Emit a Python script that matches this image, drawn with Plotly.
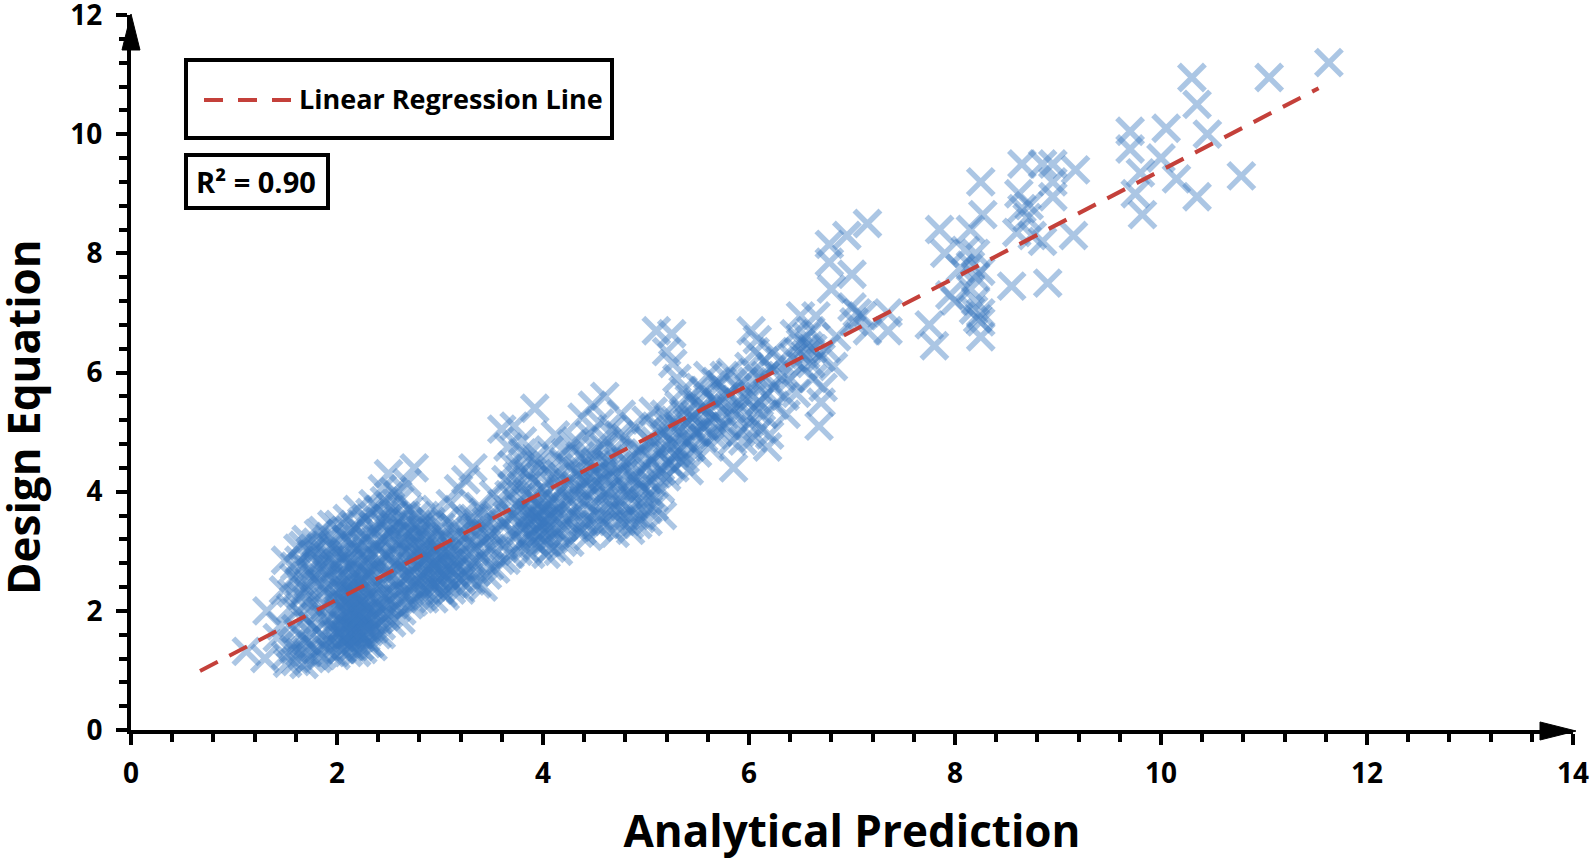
import plotly.graph_objects as go

x_ticks = [0, 2, 4, 6, 8, 10, 12, 14]
y_ticks = [0, 2, 4, 6, 8, 10, 12]
fit_x = [0.67, 11.53]
fit_y = [0.99, 10.77]

points_low = [
(1.12,1.32),(1.3,1.2),(1.32,2.0),(1.42,1.55),(1.45,1.75),(1.48,2.35),(1.5,1.25),(1.5,2.85),(1.52,1.12),(1.55,1.45),
(1.55,2.05),(1.58,2.55),(1.6,1.15),(1.6,1.7),(1.62,3.05),(1.64,1.3),(1.65,2.25),(1.66,2.75),(1.68,1.1),(1.68,1.9),
(1.7,1.5),(1.7,3.2),(1.72,2.45),(1.74,1.2),(1.75,2.95),(1.76,1.75),(1.78,2.15),(1.8,1.35),(1.8,2.65),(1.82,3.3),
(1.84,2.0),(1.85,1.6),(1.86,2.85),(1.88,2.35),(1.88,1.4),(1.9,3.1),(1.9,1.85),(1.92,2.55),(1.94,1.3),(1.95,3.45),
(1.95,2.2),(1.96,1.65),(1.98,2.75),(2.0,1.45),(2.0,2.0),(2.0,3.0),(2.02,2.4),(2.03,1.8),(2.04,3.3),(2.05,1.35),
(2.05,2.6),(2.06,2.15),(2.08,1.55),(2.08,2.9),(2.1,1.95),(2.1,3.55),(2.1,2.35),(2.12,1.7),(2.12,1.4),(2.13,2.75),
(2.14,3.15),(2.15,2.05),(2.15,2.5),(2.16,1.85),(2.18,1.5),(2.18,2.25),(2.18,3.4),(2.2,1.65),(2.2,2.9),(2.2,3.7),
(2.22,2.0),(2.22,1.4),(2.23,2.45),(2.24,1.8),(2.25,3.1),(2.25,2.65),(2.26,2.15),(2.28,1.55),(2.28,3.55),(2.3,2.3),
(2.3,1.9),(2.3,2.85),(2.32,1.45),(2.33,3.3),(2.34,2.55),(2.35,2.05),(2.35,3.8),(2.36,1.7),(2.38,2.75),(2.4,2.2),
(2.4,3.05),(2.4,1.85),(2.42,3.5),(2.43,1.6),(2.44,4.05),(2.45,2.45),(2.46,2.95),(2.48,2.1),(2.5,3.3),(2.5,1.95),
(2.5,2.65),(2.5,4.3),(2.52,3.75),(2.54,2.3),(2.55,4.0),(2.56,2.85),(2.58,2.05),(2.6,3.15),(2.6,2.5),(2.6,3.55),
(2.62,1.85),(2.63,2.75),(2.65,2.25),(2.65,3.0),(2.66,3.35),(2.68,4.15),(2.7,2.6),(2.7,2.1),(2.7,3.7),(2.72,2.9),
(2.73,3.15),(2.75,2.4),(2.75,4.4),(2.76,2.75),(2.78,3.45),(2.8,2.2),(2.8,3.0),(2.8,2.55),(2.82,3.25),(2.84,2.85),
(2.85,3.6),(2.86,2.35),(2.88,2.65),(2.9,3.1),(2.9,2.45),(2.9,2.9),(2.92,3.4),(2.94,2.2),(2.95,2.75),(2.96,3.7),
(2.98,2.55),(3.0,3.0),(3.0,2.35),(3.0,3.25),(3.02,2.8),(3.04,2.6),(3.05,3.5),(3.05,2.25),(3.08,2.95),(3.1,2.7),
(3.1,3.15),(3.1,3.8),(3.12,2.45),(3.14,3.4),(3.15,2.85),(3.18,2.55),(3.18,4.05),(3.2,3.1),(3.2,2.35),(3.22,3.6),
(3.25,2.75),(3.25,4.2),(3.28,2.95),(3.3,2.5),(3.3,3.35),(3.32,4.4),(3.35,3.05),(3.35,2.65),(3.38,3.75),(3.4,2.9),
(3.4,3.2),(3.42,2.4),(3.45,3.5),(3.48,2.75),(3.5,3.05),(3.52,3.95),(3.55,3.3),(3.58,2.85),
]

points_dense = [
(1.56,2.3),(1.58,1.35),(1.62,2.0),(1.63,2.85),(1.66,1.55),(1.69,2.35),(1.71,1.3),(1.73,2.7),(1.75,1.6),(1.77,3.05),
(1.79,1.9),(1.81,1.2),(1.83,2.45),(1.85,1.25),(1.87,2.1),(1.89,2.95),(1.91,1.5),(1.93,3.25),(1.95,1.75),(1.97,2.35),
(1.99,1.25),(2.01,2.55),(2.01,1.6),(2.03,2.2),(2.04,1.35),(2.05,1.9),(2.07,2.8),(2.07,1.5),(2.09,1.75),(2.09,2.45),
(2.11,1.3),(2.11,2.1),(2.13,1.6),(2.14,2.3),(2.15,1.8),(2.16,1.4),(2.17,2.65),(2.17,2.0),(2.19,1.7),(2.19,1.3),
(2.21,2.15),(2.21,2.55),(2.23,1.55),(2.23,1.9),(2.25,1.35),(2.25,2.35),(2.27,1.75),(2.27,2.95),(2.29,2.05),(2.29,1.45),
(2.31,1.65),(2.31,2.6),(2.33,2.2),(2.33,1.85),(2.35,1.4),(2.35,2.7),(2.37,1.95),(2.37,3.1),(2.39,1.6),(2.39,2.4),
(2.41,2.1),(2.41,2.85),(2.43,1.75),(2.45,3.2),(2.45,2.25),(2.47,1.9),(2.47,2.6),(2.49,3.55),(2.51,2.15),(2.51,2.9),
(2.53,1.8),(2.55,2.5),(2.55,3.4),(2.57,2.2),(2.57,3.0),(2.59,2.7),(2.61,3.85),(2.61,2.35),(2.63,2.0),(2.64,3.2),
(2.66,2.55),(2.67,2.85),(2.69,3.5),(2.71,2.3),(2.71,3.05),(2.73,2.65),(2.74,2.15),(2.76,3.25),(2.77,2.5),(2.79,2.85),
(2.81,2.35),(2.81,3.35),(2.83,2.65),(2.83,3.05),(2.85,2.2),(2.87,2.9),(2.87,3.2),(2.89,2.55),(2.91,2.75),(2.91,3.5),
(2.93,2.4),(2.93,3.0),(2.95,2.6),(2.97,3.15),(2.97,2.85),(2.99,2.45),(3.01,2.7),(3.01,3.4),(3.03,2.95),(3.03,2.3),
(3.06,3.2),(3.07,2.55),(3.09,2.8),(3.11,3.0),(3.11,2.35),(3.13,2.65),(3.16,3.25),(3.17,2.75),(3.19,2.95),(3.21,2.5),
(3.23,3.3),(3.26,2.6),(3.29,3.15),(3.31,2.8),(3.33,3.55),(3.36,2.45),(3.39,3.35),(3.43,3.0),(3.46,2.6),(3.5,3.3),
(3.54,2.7),(3.6,3.45),(3.64,2.85),(3.67,3.95),(3.71,3.6),(3.74,3.25),(3.77,3.7),(3.79,4.1),(3.81,3.4),(3.83,3.05),
(3.85,3.75),(3.86,3.5),(3.88,3.25),(3.89,3.9),(3.91,3.65),(3.92,3.15),(3.94,3.45),(3.96,3.6),(3.97,3.3),(3.99,3.9),
(4.01,3.5),(4.03,3.15),(4.04,3.75),(4.06,3.4),(4.08,3.05),(4.09,3.6),(4.11,4.1),(4.13,3.35),(4.16,3.8),(4.19,3.15),
(4.21,3.55),(4.24,3.9),(4.27,4.4),(4.29,3.45),(4.31,4.1),(4.34,3.7),(4.37,4.05),(4.39,3.5),(4.41,4.55),(4.43,4.0),
(4.46,4.25),(4.49,3.8),(4.51,4.5),(4.53,4.1),(4.55,3.6),(4.57,4.3),(4.59,4.75),(4.61,4.0),(4.63,4.5),(4.66,3.85),
(4.69,4.25),(4.71,3.7),(4.73,4.45),(4.74,4.95),(4.77,4.1),(4.79,3.75),(4.81,4.5),(4.83,3.95),(4.87,4.25),(4.89,3.6),
(4.91,4.6),(4.94,4.15),(4.97,3.85),(4.99,4.65),(5.01,4.2),(5.04,3.95),(5.06,4.55),(5.09,4.85),(5.11,4.3),(5.14,4.7),
(5.17,5.0),(5.21,4.5),(5.23,5.15),(5.27,4.8),(5.31,5.1),(5.34,4.7),(5.37,5.3),(5.41,4.85),(5.45,5.25),(5.49,5.0),
(5.53,5.4),(5.57,5.1),(5.61,5.35),(5.65,4.95),(5.69,5.5),(5.73,5.15),(5.77,5.6),(5.83,5.4),(5.89,5.75),(5.96,5.55),
(6.03,5.85),(6.1,5.5),(6.16,5.95),(6.24,5.75),(6.32,5.95),(6.42,6.25),(6.48,6.35),(6.56,6.6),(6.58,6.45),(6.62,6.4),
]

points_fill = [
(1.59,2.75),(1.64,2.5),(1.67,3.1),(1.72,2.15),(1.74,3.0),(1.78,2.55),(1.8,3.15),(1.83,2.75),(1.86,3.35),(1.9,2.65),
(1.93,2.85),(1.96,3.1),(2.0,2.8),(2.02,3.45),(2.06,2.95),(2.09,3.2),(2.12,3.35),(2.15,2.85),(2.17,3.05),(2.21,3.25),
(2.24,3.5),(2.26,2.75),(2.29,3.2),(2.32,3.65),(2.34,2.95),(2.37,3.4),(2.4,3.7),(2.43,3.2),(2.46,3.85),(2.48,3.45),
(2.53,3.6),(2.56,3.25),(2.59,3.95),(2.62,3.4),(2.67,3.6),(2.72,3.3),(2.77,3.6),(2.83,3.45),(2.03,1.65),(2.06,1.75),
(2.1,1.6),(2.13,1.9),(2.16,1.65),(2.19,1.95),(2.22,1.6),(2.25,1.95),(2.28,1.7),(2.06,2.3),(2.09,2.0),(2.12,2.25),
(2.16,2.4),(2.2,2.25),(2.24,2.5),(3.3,3.55),(3.35,3.4),(3.42,3.65),(3.48,3.25),(3.55,3.6),(3.6,3.8),(3.64,4.2),
(3.7,4.45),(3.75,4.25),(3.8,4.65),(3.86,4.3),(3.92,4.55),(3.98,4.25),(4.04,4.45),(4.1,3.8),(4.16,4.3),(4.22,4.65),
(4.32,4.85),(4.38,3.35),(4.44,3.25),(4.52,3.45),(4.6,3.45),(4.7,3.3),(4.76,3.5),(4.84,3.45),(4.92,3.45),(5.02,3.5),
(5.08,3.75),(5.14,4.05),(5.2,4.25),(5.28,4.4),(5.34,4.5),(5.42,4.35),(5.5,5.5),(5.56,5.7),(5.68,5.85),(5.76,5.95),
(5.84,4.85),(5.94,4.85),(6.04,4.9),(6.08,6.55),(6.14,5.3),(6.24,6.35),(6.36,5.3),(6.44,6.65),(6.46,5.65),(6.6,6.15),
]

points_mid = [
(3.6,5.05),(3.62,3.1),(3.65,3.6),(3.66,4.75),(3.68,2.95),(3.7,4.1),(3.7,3.35),(3.72,5.1),(3.75,3.8),(3.76,3.0),
(3.78,4.4),(3.8,3.5),(3.8,4.85),(3.82,3.2),(3.84,3.95),(3.85,4.6),(3.87,3.65),(3.88,2.95),(3.9,3.35),(3.9,4.2),
(3.92,5.4),(3.93,3.55),(3.95,3.8),(3.95,3.1),(3.97,4.45),(3.98,3.45),(4.0,3.7),(4.0,4.05),(4.02,3.3),(4.03,2.95),
(4.05,3.55),(4.06,4.7),(4.08,3.85),(4.1,3.2),(4.1,4.25),(4.12,4.95),(4.14,3.6),(4.15,3.0),(4.18,4.05),(4.2,3.4),
(4.2,4.5),(4.22,3.75),(4.25,4.15),(4.26,3.15),(4.28,4.8),(4.3,3.6),(4.3,3.95),(4.33,4.35),(4.35,3.3),(4.36,4.6),
(4.38,5.25),(4.4,3.85),(4.4,4.2),(4.42,3.5),(4.44,4.45),(4.45,4.95),(4.47,4.05),(4.48,5.45),(4.5,3.65),(4.5,4.3),
(4.52,4.7),(4.54,3.4),(4.55,5.15),(4.56,4.5),(4.58,3.9),(4.6,4.2),(4.6,5.6),(4.62,4.85),(4.64,3.7),(4.65,4.4),
(4.67,5.05),(4.68,3.5),(4.7,4.1),(4.72,4.65),(4.75,3.85),(4.76,5.3),(4.78,4.3),(4.8,3.6),(4.8,4.9),(4.82,4.05),
(4.85,3.35),(4.86,4.55),(4.88,5.1),(4.9,3.8),(4.9,4.25),(4.93,4.7),(4.95,3.55),(4.96,4.05),(5.0,5.2),(5.0,4.4),
(5.02,3.7),(5.03,4.85),(5.05,4.15),(5.07,5.35),(5.08,3.9),(5.1,4.6),(5.1,6.7),(5.12,5.05),(5.15,4.35),(5.16,3.6),
(5.18,5.3),(5.2,4.75),(5.2,6.35),(5.22,5.0),(5.24,4.45),(5.25,6.65),(5.26,6.15),(5.28,5.2),(5.3,5.9),(5.3,4.65),
(5.32,5.45),(5.35,4.9),(5.36,5.7),(5.38,4.55),(5.4,5.15),(5.42,5.55),(5.44,4.75),(5.46,5.0),(5.48,5.3),(5.5,4.65),
(5.52,5.75),(5.54,5.1),(5.56,4.9),(5.58,5.4),(5.6,5.95),(5.62,4.75),(5.64,5.2),(5.66,5.55),(5.7,5.0),(5.72,5.8),
(5.74,5.35),(5.78,5.1),(5.8,5.65),(5.82,6.0),(5.85,4.4),(5.86,5.3),(5.9,5.5),(5.92,5.0),(5.95,5.85),(5.98,5.3),
(6.0,6.1),(6.0,5.15),(6.02,6.7),(6.04,5.6),(6.06,6.35),(6.08,5.35),(6.1,5.9),(6.12,5.05),(6.15,6.2),(6.18,4.75),
(6.18,5.65),(6.2,4.95),(6.22,6.05),(6.25,5.45),(6.3,6.2),(6.35,5.6),(6.4,5.9),
]

points_high = [
(6.5,6.5),(6.5,6.95),(6.52,6.1),(6.55,6.3),(6.6,6.7),(6.62,5.9),(6.65,6.95),(6.68,5.1),(6.7,6.25),(6.7,5.5),
(6.72,5.75),(6.75,6.4),(6.78,8.15),(6.78,7.85),(6.8,7.4),(6.82,6.1),(6.85,6.6),(6.95,8.3),(7.0,7.65),(7.0,7.1),
(7.02,6.85),(7.05,7.0),(7.1,6.95),(7.15,8.5),(7.15,6.7),(7.35,7.0),(7.35,6.7),(7.75,6.8),(7.8,6.45),(7.85,8.4),
(7.9,8.0),(7.95,7.3),(8.0,7.2),(8.05,7.75),(8.1,8.05),(8.15,8.4),(8.15,7.8),(8.15,7.4),(8.18,7.05),(8.2,8.0),
(8.2,7.6),(8.2,7.2),(8.22,6.9),(8.25,9.2),(8.25,7.7),(8.25,7.0),(8.25,6.85),(8.25,6.6),(8.27,8.65),(8.55,7.45),
(8.6,8.35),(8.62,9.0),(8.65,9.5),(8.65,8.75),(8.7,8.6),(8.72,8.8),(8.75,8.3),(8.85,9.5),(8.85,8.2),(8.9,7.5),
(8.95,9.5),(8.95,9.2),(8.95,8.95),(9.15,8.3),(9.17,9.4),(9.7,10.05),(9.7,9.75),(9.75,9.0),(9.8,9.35),(9.82,8.65),
(10.0,9.6),(10.05,10.1),(10.15,9.25),(10.3,10.95),(10.35,10.5),(10.35,8.95),(10.45,10.0),(10.78,9.3),(11.05,10.95),(11.63,11.2),
]

all_points = points_low + points_dense + points_fill + points_mid + points_high
scatter_x = [p[0] for p in all_points]
scatter_y = [p[1] for p in all_points]

FONT = "Open Sans"
W, H = 1595, 860
L, R, T, B = 131, 22, 15, 130
px = lambda v: (v - L) / (W - L - R)
py = lambda v: 1 - (v - T) / (H - T - B)


def box(x0, y0, x1, y1):
    return dict(type="rect", xref="paper", yref="paper", x0=px(x0), x1=px(x1), y0=py(y0), y1=py(y1),
                line=dict(color="#000", width=4), fillcolor="white", layer="below")


def tri(points):
    d = "M " + " L ".join(f"{px(a):.5f} {py(b):.5f}" for a, b in points) + " Z"
    return dict(type="path", xref="paper", yref="paper", path=d, fillcolor="#000", line=dict(color="#000", width=1))


fig = go.Figure()
fig.add_trace(go.Scatter(x=scatter_x, y=scatter_y, mode="markers", showlegend=False,
                         marker=dict(symbol="x-thin", size=26, opacity=0.42, color="#3a78bf",
                                     line=dict(color="#3a78bf", width=5.5))))
fig.add_trace(go.Scatter(x=fit_x, y=fit_y, mode="lines", showlegend=False,
                         line=dict(color="#c4403a", width=4, dash="20px,13px")))

axis = dict(showgrid=False, zeroline=False, showline=True, linecolor="#000", linewidth=4,
            ticks="outside", ticklen=11, tickwidth=4, tickcolor="#000", ticklabeloverflow="allow",
            tickfont=dict(family=FONT, size=28, color="#000", weight="bold"),
            minor=dict(dtick=0.4, ticks="outside", ticklen=8, tickwidth=4, tickcolor="#000", showgrid=False))

fig.update_layout(
    width=W, height=H, margin=dict(l=L, r=R, t=T, b=B, autoexpand=False),
    paper_bgcolor="white", plot_bgcolor="white", showlegend=False,
    xaxis=dict(axis, range=[0, 14], tickvals=x_ticks, ticktext=[str(v) for v in x_ticks], ticklabelstandoff=4,
               title=dict(text="Analytical Prediction", standoff=28,
                          font=dict(family=FONT, size=44, color="#000", weight="bold"))),
    yaxis=dict(axis, range=[0, 12], tickvals=y_ticks, ticktext=[str(v) for v in y_ticks], ticklabelstandoff=8),
    shapes=[box(186, 60, 612, 138), box(186, 155, 328, 208),
            dict(type="line", xref="paper", yref="paper", x0=px(204), x1=px(291), y0=py(100), y1=py(100),
                 line=dict(color="#c4403a", width=4, dash="19px,15px")),
            tri([(122, 50), (131, 14), (140, 50)]),
            tri([(1540, 722), (1576, 731), (1540, 740)])],
    annotations=[
        dict(text="Design Equation", textangle=-90, xref="paper", yref="paper", x=px(23), y=py(417),
             xanchor="center", yanchor="middle", showarrow=False,
             font=dict(family=FONT, size=44, color="#000", weight="bold")),
        dict(text="Linear Regression Line", xref="paper", yref="paper", x=px(297), y=py(98),
             xanchor="left", yanchor="middle", showarrow=False,
             font=dict(family=FONT, size=27, color="#000", weight="bold")),
        dict(text="R² = 0.90", xref="paper", yref="paper", x=px(256), y=py(181),
             xanchor="center", yanchor="middle", showarrow=False,
             font=dict(family=FONT, size=29, color="#000", weight="bold")),
    ],
)
fig.write_html("out.html", post_script="document.body.style.margin='0';", config=dict(displayModeBar=False))
